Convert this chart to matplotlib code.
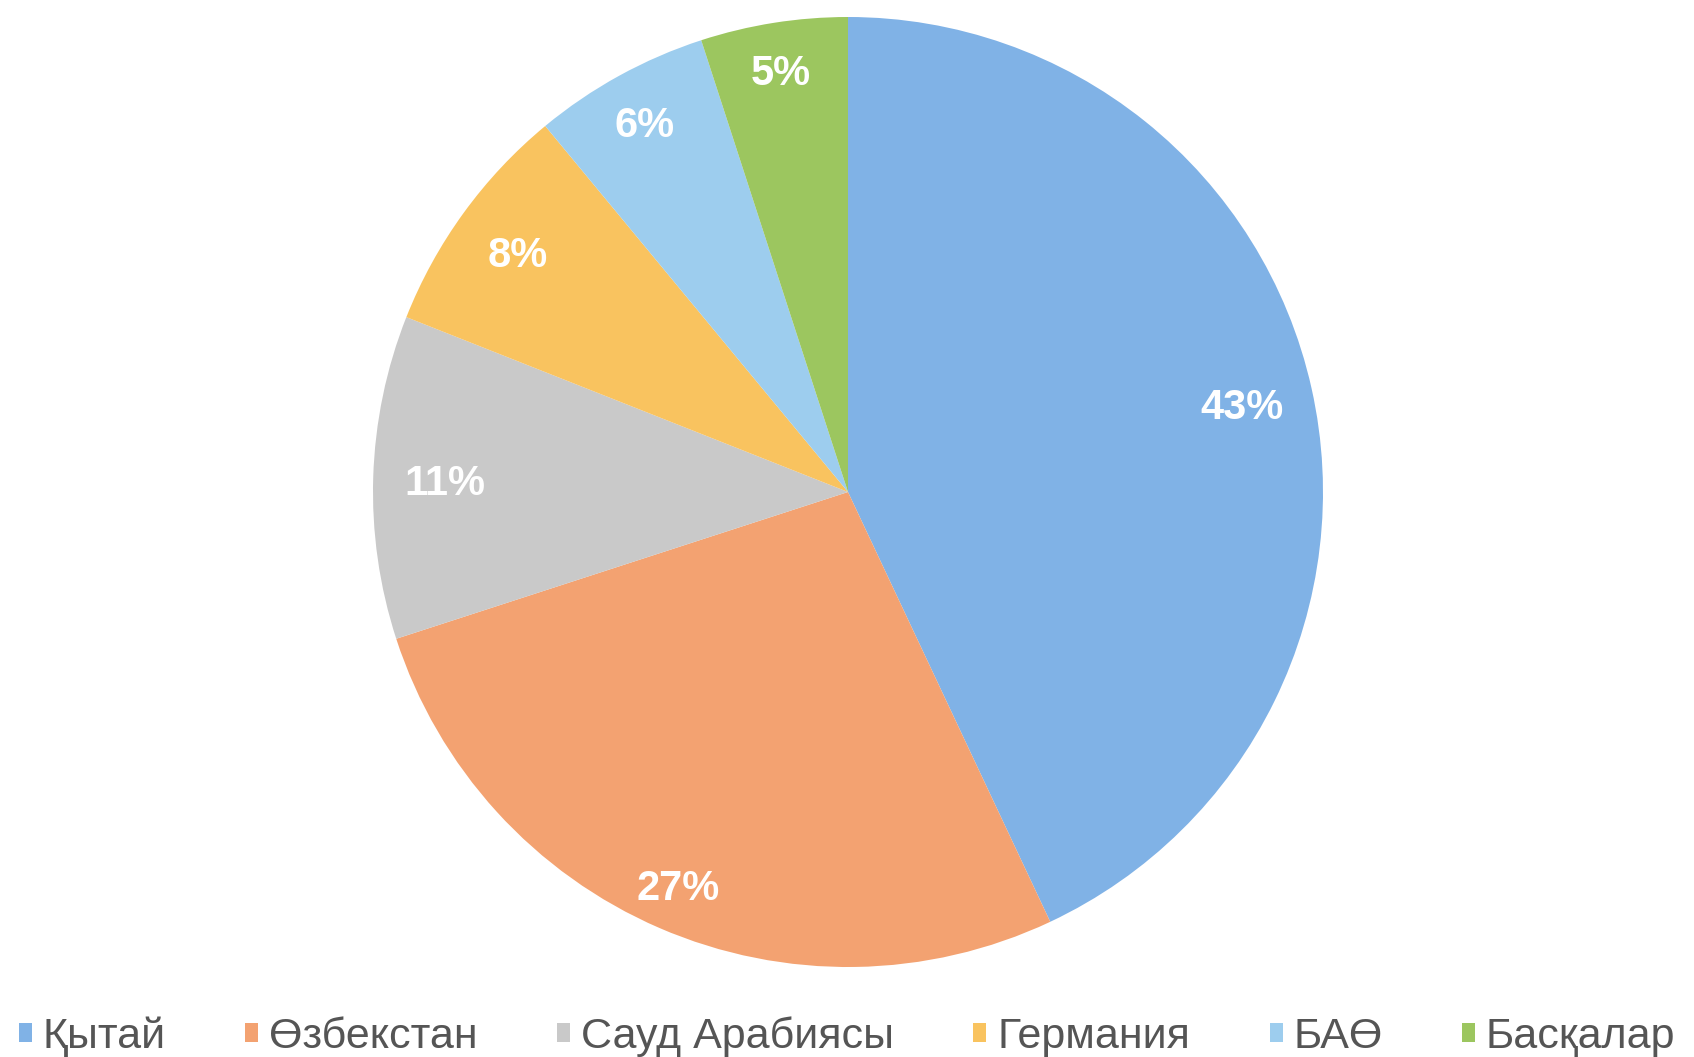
import matplotlib
matplotlib.use("Agg")
import numpy as np
import matplotlib.pyplot as plt
from matplotlib.patches import Patch
from matplotlib import font_manager

categories = ["Қытай", "Өзбекстан", "Сауд Арабиясы", "Германия", "БАӨ", "Басқалар"]
values = [43, 27, 11, 8, 6, 5]
colors = ["#80b2e6", "#f3a271", "#c9c9c9", "#f9c35f", "#9dcdee", "#9cc65f"]
label_dist = [0.85, 0.90, 0.85, 0.86, 0.89, 0.90]

names = {f.name for f in font_manager.fontManager.ttflist}
fam = "Liberation Sans Narrow" if "Liberation Sans Narrow" in names else "Liberation Sans"
plt.rcParams["font.family"] = [fam, "DejaVu Sans"]

W, H = 1694, 1057
fig = plt.figure(figsize=(W / 100, H / 100), dpi=100)
cx, cy, r = 848, 492, 475
ax = fig.add_axes([(cx - r) / W, (H - cy - r) / H, 2 * r / W, 2 * r / H])
wedges, texts, autotexts = ax.pie(
    values, colors=colors, startangle=90, counterclock=False,
    autopct=lambda p: f"{p:.0f}%", pctdistance=0.87, radius=1.0,
    wedgeprops=dict(linewidth=0),
    textprops=dict(color="white", fontsize=30, fontweight="bold"),
)
for w, t, d in zip(wedges, autotexts, label_dist):
    ang = np.deg2rad((w.theta1 + w.theta2) / 2)
    t.set_position((d * np.cos(ang), d * np.sin(ang)))
    t.set_va("center_baseline")
ax.set_xlim(-1, 1)
ax.set_ylim(-1, 1)
ax.set_aspect("equal")
ax.axis("off")

handles = [Patch(facecolor=c, edgecolor="none") for c in colors]
fig.legend(handles, categories, loc="center", bbox_to_anchor=(0.5, 1 - 1037 / H),
           ncol=6, frameon=False, fontsize=31, handlelength=0.3, handleheight=0.3,
           handletextpad=0.25, columnspacing=1.85, labelcolor="#555555",
           borderaxespad=0, borderpad=0)

fig.savefig("out.png", dpi=100, facecolor="white")
